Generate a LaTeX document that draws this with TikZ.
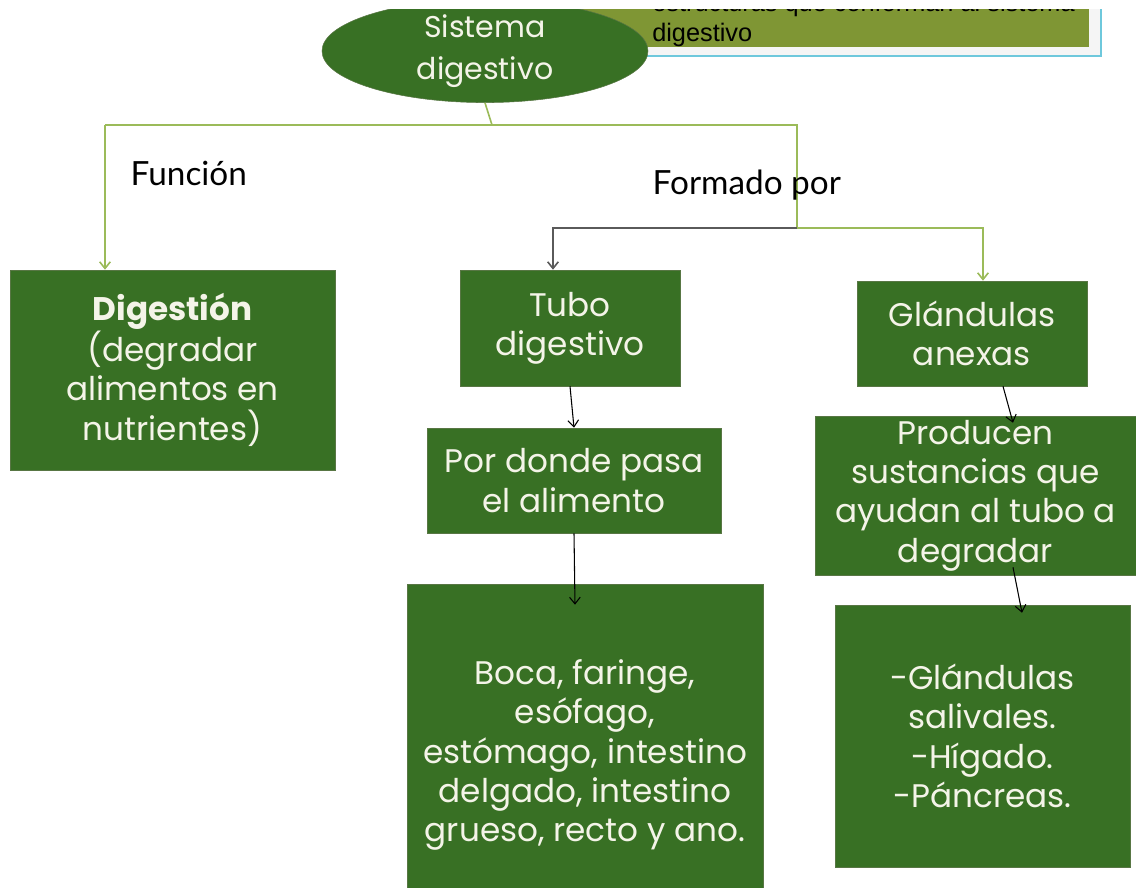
\documentclass[tikz,border=0pt]{standalone}
\usepackage{fontspec}
\setmainfont{Poppins}
\newfontfamily\labfont{Lato}
\newfontfamily\notefont{Liberation Sans}
\usetikzlibrary{arrows.meta,calc,positioning,shapes.geometric}

\definecolor{boxgreen}{RGB}{56,112,36}
\definecolor{boxedge}{RGB}{88,118,68}
\definecolor{boxtext}{RGB}{244,244,232}
\definecolor{oliveline}{RGB}{155,187,89}
\definecolor{olivefill}{RGB}{127,150,52}
\definecolor{framecyan}{RGB}{110,200,220}
\definecolor{linegray}{RGB}{90,90,90}

\tikzset{
  gbox/.style={draw=boxedge,fill=boxgreen,text=boxtext,align=center,inner sep=0pt,
    font=\fontsize{24.5}{29.5}\selectfont},
  olink/.style={draw=oliveline,line width=1.2pt},
  glink/.style={draw=linegray,line width=1.2pt},
  blink/.style={draw=black,line width=0.8pt},
  tip/.style={-{Straight Barb[length=5pt,width=8pt]}},
  lab/.style={font=\labfont\fontsize{25}{29}\selectfont,anchor=west},
}

\begin{document}
\begin{tikzpicture}[x=0.75pt,y=-0.75pt]
		\useasboundingbox (0,0) rectangle (1136,888);
		\clip (0,10) rectangle (1136,888);
		% heading box, cut off at the top
		\draw[framecyan,line width=1.5pt,fill=gray!8] (560,-40) rectangle (1101,56);
		\fill[olivefill] (560,-40) rectangle (1089,47);
		\node[anchor=west,align=left,inner sep=0pt,font=\notefont\fontsize{19}{22.5}\selectfont] (nota) at (652,20) {estructuras que conforman al sistema\\digestivo};
		\node[ellipse,draw=boxedge,fill=boxgreen,text=boxtext,align=center,inner sep=0pt,
			minimum width=244.5pt,minimum height=66pt,font=\fontsize{22.5}{31.5}\selectfont] (sis) at (485,51) {Sistema\\digestivo};
		% boxes
		\node[gbox,minimum width=243.75pt,minimum height=150pt] (dig) at (172.5,370) {\textbf{Digestión}\\(degradar\\alimentos en\\nutrientes)};
		\node[gbox,minimum width=165pt,minimum height=87pt] (tubo) at (570,328) {Tubo\\digestivo};
		\node[gbox,minimum width=172.5pt,minimum height=78.75pt] (glan) at (972,333.5) {Glándulas\\anexas};
		\node[gbox,minimum width=220.5pt,minimum height=78.75pt] (por) at (574,480.5) {Por donde pasa\\el alimento};
		\node[gbox,minimum width=267pt,minimum height=256.5pt] (boca) at (585,755) {Boca, faringe,\\esófago,\\estómago, intestino\\delgado, intestino\\grueso, recto y ano.};
		\node[gbox,minimum width=240.75pt,minimum height=119.25pt] (prod) at (975.5,495.5) {Producen\\sustancias que\\ayudan al tubo a\\degradar};
		\node[gbox,minimum width=221.25pt,minimum height=196.5pt] (sal) at (982.5,736) {-Glándulas\\salivales.\\-Hígado.\\-Páncreas.};
		% tree lines
		\coordinate (jtop) at (492,125);
		\coordinate (jleft) at (105,125);
		\coordinate (jright) at (797,125);
		\coordinate (jmid) at (797,228);
		\coordinate (jtubo) at (553,228);
		\coordinate (jglan) at (983,228);
		\draw[olink] (sis.south) -- (jtop);
		\draw[olink] (jleft) -- (jright) -- (jmid);
		\draw[olink,tip] (jleft) -- (jleft |- dig.north);
		\draw[glink,tip] (jmid) -- (jtubo) -- (jtubo |- tubo.north);
		\draw[olink,tip] (jmid) -- (jglan) -- (jglan |- glan.north);
		\draw[blink,tip] (tubo.south) -- (por.north);
		\draw[blink,tip] (por.south) -- ($(boca.north)+(-10,21)$);
		\draw[blink,tip] ($(glan.south)+(31,0)$) -- ($(prod.north)+(37.5,7)$);
		\draw[blink,tip] ($(prod.south)+(37.5,-8)$) -- ($(sal.north)+(39.5,8)$);
		% labels
		\node[lab] (fun) at (126,173) {Función};
		\node[lab] (form) at (648,185) {Formado por};
\end{tikzpicture}
\end{document}
